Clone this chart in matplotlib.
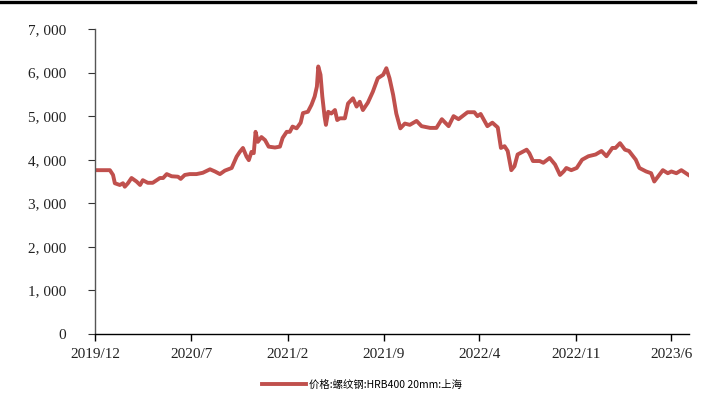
import matplotlib
matplotlib.use("Agg")
import matplotlib.pyplot as plt
import matplotlib.dates as mdates
from matplotlib.lines import Line2D
import pandas as pd

plt.rcParams['font.family'] = ['Liberation Serif', 'Noto Sans CJK SC', 'DejaVu Sans']

# rebar price, Shanghai HRB400 20mm
dates = ['2019-12-01', '2020-01-03', '2020-01-10', '2020-01-14', '2020-01-25', '2020-02-01',
         '2020-02-05', '2020-02-12', '2020-02-20', '2020-03-02', '2020-03-10', '2020-03-16',
         '2020-03-27', '2020-04-07', '2020-04-23', '2020-04-30', '2020-05-08', '2020-05-19',
         '2020-06-02', '2020-06-08', '2020-06-17', '2020-06-28', '2020-07-13', '2020-07-27',
         '2020-08-12', '2020-08-23', '2020-09-03', '2020-09-14', '2020-09-29', '2020-10-10',
         '2020-10-17', '2020-10-24', '2020-11-01', '2020-11-06', '2020-11-12', '2020-11-17',
         '2020-11-21', '2020-11-26', '2020-12-04', '2020-12-12', '2020-12-20', '2021-01-03',
         '2021-01-14', '2021-01-20', '2021-01-29', '2021-02-05', '2021-02-11', '2021-02-20',
         '2021-03-01', '2021-03-06', '2021-03-17', '2021-03-25', '2021-04-01', '2021-04-06',
         '2021-04-09', '2021-04-14', '2021-04-18', '2021-04-23', '2021-04-26', '2021-05-01',
         '2021-05-08', '2021-05-16', '2021-05-21', '2021-05-27', '2021-06-07', '2021-06-14',
         '2021-06-25', '2021-07-03', '2021-07-10', '2021-07-17', '2021-07-28', '2021-08-08',
         '2021-08-19', '2021-08-31', '2021-09-07', '2021-09-14', '2021-09-22', '2021-09-29',
         '2021-10-08', '2021-10-18', '2021-10-29', '2021-11-13', '2021-11-24', '2021-12-13',
         '2021-12-27', '2022-01-08', '2022-01-23', '2022-02-03', '2022-02-14', '2022-03-06',
         '2022-03-21', '2022-03-28', '2022-04-04', '2022-04-19', '2022-04-30', '2022-05-12',
         '2022-05-19', '2022-05-27', '2022-06-03', '2022-06-11', '2022-06-18', '2022-06-25',
         '2022-07-15', '2022-07-21', '2022-07-29', '2022-08-13', '2022-08-21', '2022-09-04',
         '2022-09-16', '2022-09-27', '2022-10-05', '2022-10-11', '2022-10-22', '2022-11-03',
         '2022-11-15', '2022-11-29', '2022-12-15', '2022-12-28', '2023-01-08', '2023-01-21',
         '2023-01-28', '2023-02-07', '2023-02-18', '2023-02-27', '2023-03-14', '2023-03-22',
         '2023-04-06', '2023-04-17', '2023-04-24', '2023-05-02', '2023-05-13', '2023-05-24',
         '2023-06-01', '2023-06-12', '2023-06-23', '2023-07-09']
prices = [3760, 3760, 3650, 3460, 3420, 3460,
          3380, 3460, 3580, 3500, 3420, 3530,
          3470, 3470, 3580, 3580, 3670, 3620,
          3610, 3560, 3650, 3670, 3670, 3700,
          3780, 3730, 3670, 3750, 3810, 4070,
          4180, 4270, 4070, 3990, 4180, 4150,
          4640, 4410, 4520, 4450, 4300, 4280,
          4300, 4500, 4640, 4640, 4760, 4720,
          4850, 5070, 5100, 5260, 5450, 5680,
          6140, 5950, 5450, 4990, 4800, 5100,
          5060, 5140, 4910, 4950, 4950, 5290,
          5410, 5220, 5330, 5140, 5310, 5560,
          5870, 5950, 6100, 5870, 5490, 5060,
          4720, 4830, 4800, 4890, 4770, 4730,
          4730, 4930, 4770, 5000, 4930, 5090,
          5090, 5000, 5050, 4770, 4850, 4740,
          4270, 4310, 4200, 3760, 3850, 4120,
          4230, 4150, 3970, 3970, 3930, 4040,
          3890, 3650, 3730, 3810, 3760, 3810,
          4000, 4080, 4120, 4200, 4080, 4270,
          4270, 4380, 4230, 4200, 4000, 3810,
          3730, 3690, 3500, 3610, 3760, 3690,
          3730, 3690, 3760, 3650]
tick_dates = ['2019-12-01', '2020-07-01', '2021-02-01', '2021-09-01',
              '2022-04-01', '2022-11-01', '2023-06-01']
tick_labels = ['2019/12', '2020/7', '2021/2', '2021/9', '2022/4', '2022/11', '2023/6']
y_ticks = [0, 1000, 2000, 3000, 4000, 5000, 6000, 7000]
series_name = '价格:螺纹钢:HRB400 20mm:上海'

x = pd.to_datetime(dates)

fig = plt.figure(figsize=(7.04, 4.08), dpi=100)
ax = fig.add_axes([95/704, 1-334/408, (689-95)/704, (334-29)/408])

ax.plot(x, prices, color='#C0504D', lw=2.8, solid_joinstyle='round', label=series_name)

ax.set_ylim(0, 7000)
ax.set_xlim(pd.Timestamp('2019-12-01'), pd.Timestamp('2023-07-10'))
ax.set_yticks(y_ticks)
ax.set_yticklabels(['0' if v == 0 else f'{v // 1000}, {v % 1000:03d}' for v in y_ticks])
ax.set_xticks(pd.to_datetime(tick_dates))
ax.set_xticklabels(tick_labels)

for s in ['top', 'right']:
    ax.spines[s].set_visible(False)
for s in ['left', 'bottom']:
    ax.spines[s].set_linewidth(1.0)
ax.spines['left'].set_color('#555555')
ax.tick_params(axis='y', direction='out', length=5, width=0.8, pad=16,
               labelsize=11, colors='#333333', labelcolor='#222222')
ax.tick_params(axis='x', direction='out', length=5, width=1.0, pad=5,
               labelsize=11, labelcolor='#222222')

leg = ax.legend(loc='upper center', bbox_to_anchor=(0.4495, -0.12), frameon=False,
                prop={'family': ['Noto Sans CJK SC', 'DejaVu Sans'], 'size': 7.5},
                handlelength=4.2, handletextpad=0.3)

# black rule along the top of the image
fig.add_artist(Line2D([0, 695/704], [1-1.5/408, 1-1.5/408], color='black', lw=2.4,
                      transform=fig.transFigure))

fig.savefig('out.png', dpi=100)
